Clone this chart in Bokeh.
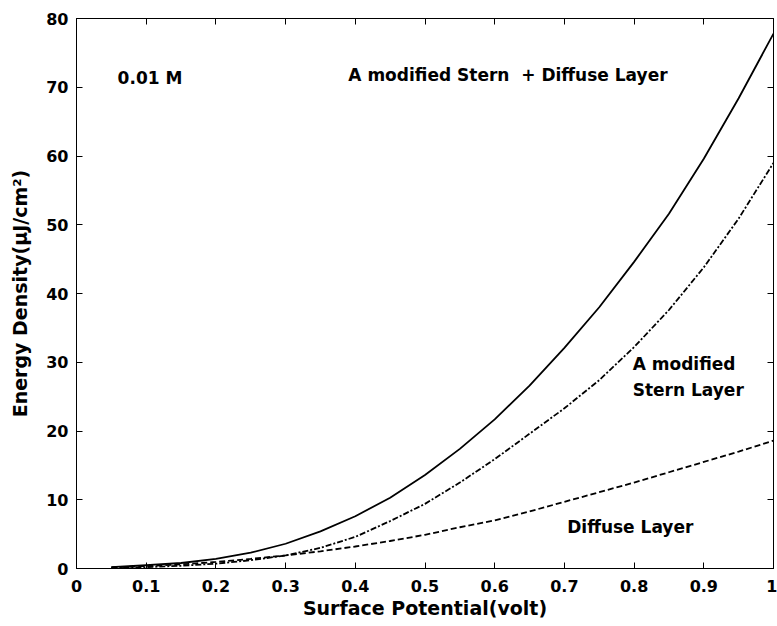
from bokeh.plotting import figure
from bokeh.models import (LinearAxis, FixedTicker, Label, Range1d,
                          CustomLabelingPolicy)
from bokeh.embed import file_html
from bokeh.resources import INLINE

# Surface potential (V) and energy density (uJ/cm^2) at 0.01 M
potential = [0.05, 0.10, 0.15, 0.20, 0.25, 0.30, 0.35, 0.40, 0.45, 0.50,
             0.55, 0.60, 0.65, 0.70, 0.75, 0.80, 0.85, 0.90, 0.95, 1.00]
stern_diffuse = [0.2, 0.5, 0.8, 1.4, 2.3, 3.6, 5.4, 7.6, 10.3, 13.6,
                 17.4, 21.7, 26.6, 32.1, 38.0, 44.6, 51.6, 59.6, 68.4, 77.8]
stern = [0.1, 0.2, 0.4, 0.7, 1.2, 1.9, 3.0, 4.6, 6.9, 9.4,
         12.5, 15.9, 19.6, 23.3, 27.4, 32.2, 37.6, 43.8, 50.9, 59.0]
diffuse = [0.15, 0.35, 0.6, 0.95, 1.4, 1.9, 2.5, 3.2, 4.0, 4.9,
           6.0, 7.0, 8.3, 9.7, 11.1, 12.5, 14.0, 15.5, 17.0, 18.6]

x_ticks = [0, 0.1, 0.2, 0.3, 0.4, 0.5, 0.6, 0.7, 0.8, 0.9, 1]
y_ticks = [0, 10, 20, 30, 40, 50, 60, 70, 80]

FONT = "DejaVu Sans"

p = figure(width=777, height=626, output_backend="svg", toolbar_location=None,
           x_range=Range1d(0, 1), y_range=Range1d(0, 80),
           min_border_left=76, min_border_right=4, min_border_top=18,
           min_border_bottom=58)
p.background_fill_color = "white"
p.border_fill_color = "white"
p.outline_line_color = "black"
p.outline_line_width = 1
p.xgrid.visible = False
p.ygrid.visible = False

# mirrored axes carry ticks only
no_labels = CustomLabelingPolicy(code="return new indices.constructor(indices.size)")

def style_axis(ax, ticks, show_labels=True):
    ax.ticker = FixedTicker(ticks=ticks)
    ax.major_tick_in = 6
    ax.major_tick_out = 0
    ax.minor_tick_line_color = None
    ax.axis_line_color = "black"
    ax.major_tick_line_color = "black"
    ax.major_label_text_font = FONT
    ax.major_label_text_font_style = "bold"
    ax.major_label_text_font_size = "16px"
    ax.major_label_text_color = "black"
    if not show_labels:
        ax.major_label_policy = no_labels
        ax.major_label_text_font_size = "1px"
        ax.major_label_standoff = 0

style_axis(p.xaxis[0], x_ticks)
style_axis(p.yaxis[0], y_ticks)
p.xaxis[0].major_label_standoff = 11
p.yaxis[0].major_label_standoff = 8
p.xaxis[0].major_label_overrides = {0: "0", 1: "1"}

p.xaxis.axis_label = "Surface Potential(volt)"
p.yaxis.axis_label = "Energy Density(\u03bcJ/cm\u00b2)"
for ax in (p.xaxis[0], p.yaxis[0]):
    ax.axis_label_text_font = FONT
    ax.axis_label_text_font_style = "bold"
    ax.axis_label_text_font_size = "19px"
    ax.axis_label_text_color = "black"
p.xaxis[0].axis_label_standoff = 2
p.yaxis[0].axis_label_standoff = 12

top_axis = LinearAxis()
style_axis(top_axis, x_ticks, show_labels=False)
p.add_layout(top_axis, "above")
right_axis = LinearAxis()
style_axis(right_axis, y_ticks, show_labels=False)
p.add_layout(right_axis, "right")

p.line(potential, stern_diffuse, line_color="black", line_width=1.8)
p.line(potential, stern, line_color="black", line_width=1.8, line_dash="6 2 2 2")
p.line(potential, diffuse, line_color="black", line_width=1.8, line_dash="6 3")

def note(x, y, txt):
    p.add_layout(Label(x=x, y=y, text=txt, text_font=FONT, text_font_style="bold",
                       text_font_size="17px", text_color="black",
                       text_baseline="middle", text_align="left"))

note(0.059, 71.3, "0.01 M")
note(0.390, 71.8, "A modified Stern \u00a0+ Diffuse Layer")
note(0.798, 29.7, "A modified")
note(0.798, 26.0, "Stern Layer")
note(0.704, 6.1, "Diffuse Layer")

open("out.html", "w").write(file_html(p, INLINE))
